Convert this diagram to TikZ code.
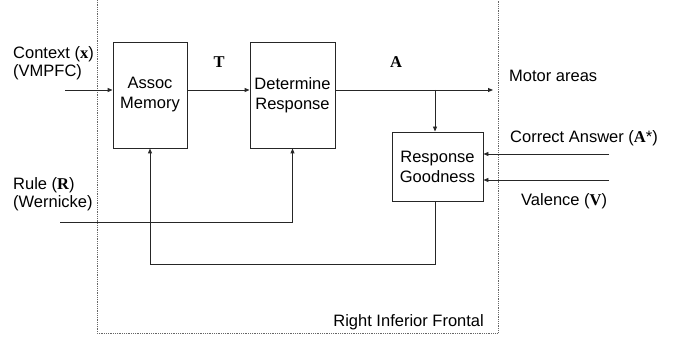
\documentclass[tikz,border=0pt]{standalone}
\usepackage{fontspec}
\setmainfont{Liberation Sans}
\newfontfamily\varfont{Liberation Serif}
\usetikzlibrary{arrows.meta}
\newcommand{\vb}[1]{{\varfont\bfseries #1}}
\begin{document}
\begin{tikzpicture}[x=1pt,y=-1pt,
  every node/.style={font=\fontsize{16.5}{20}\selectfont, inner sep=0pt},
  conn/.style={line width=0.9pt, draw=black!85},
  arr/.style={conn, -{Triangle[length=5pt,width=4pt]}},
  blk/.style={draw=black!85, line width=0.9pt, align=center},
  lbl/.style={anchor=base west},
  region/.style={draw=black!60, line width=0.8pt, densely dotted}]
\useasboundingbox (0,0) rectangle (679,339);
% region border
\draw[region] (97,0) -- (97,333) -- (498,333) -- (498,0);
\node[anchor=base east] (rif) at (484,326) {Right Inferior Frontal};
% blocks
\node[blk, minimum width=74pt, minimum height=106pt] (assoc) at (150,95) {Assoc\\Memory};
\node[blk, minimum width=85pt, minimum height=106pt] (det) at (292.5,95) {Determine\\Response};
\node[blk, minimum width=91pt, minimum height=69pt] (rg) at (437.5,166.5) {Response\\Goodness};
% labels
\node[lbl] (ctx1) at (13,59) {Context (\vb{x})};
\node[lbl] (ctx2) at (13,77) {(VMPFC)};
\node[lbl] (rule1) at (13,189) {Rule (\vb{R})};
\node[lbl] (rule2) at (13,207) {(Wernicke)};
\node[anchor=base] (tl) at (219,68) {\vb{T}};
\node[anchor=base] (al) at (396,68) {\vb{A}};
\node[lbl] (motor) at (509,81.5) {Motor areas};
\node[lbl] (corr) at (510,143) {Correct Answer (\vb{A}*)};
\node[lbl] (val) at (521,205) {Valence (\vb{V})};
% coordinates
\coordinate (ctx) at (65,90);
\coordinate (mout) at (493,90);
\coordinate (br) at (435,90);
\coordinate (ca) at (609,154);
\coordinate (va) at (609,180);
\coordinate (ru) at (60,222);
\coordinate (low) at (0,264);
% connectors
\draw[arr] (ctx) -- (assoc.west |- ctx);
\draw[arr] (assoc.east |- ctx) -- (det.west |- ctx);
\draw[arr] (det.east |- ctx) -- (mout);
\draw[arr] (br) -- (br |- rg.north);
\draw[arr] (ca) -- (rg.east |- ca);
\draw[arr] (va) -- (rg.east |- va);
\draw[arr] (ru) -- (det.south |- ru) -- (det.south);
\draw[arr] (br |- rg.south) -- (br |- low) -- (assoc.south |- low) -- (assoc.south);
\end{tikzpicture}
\end{document}
